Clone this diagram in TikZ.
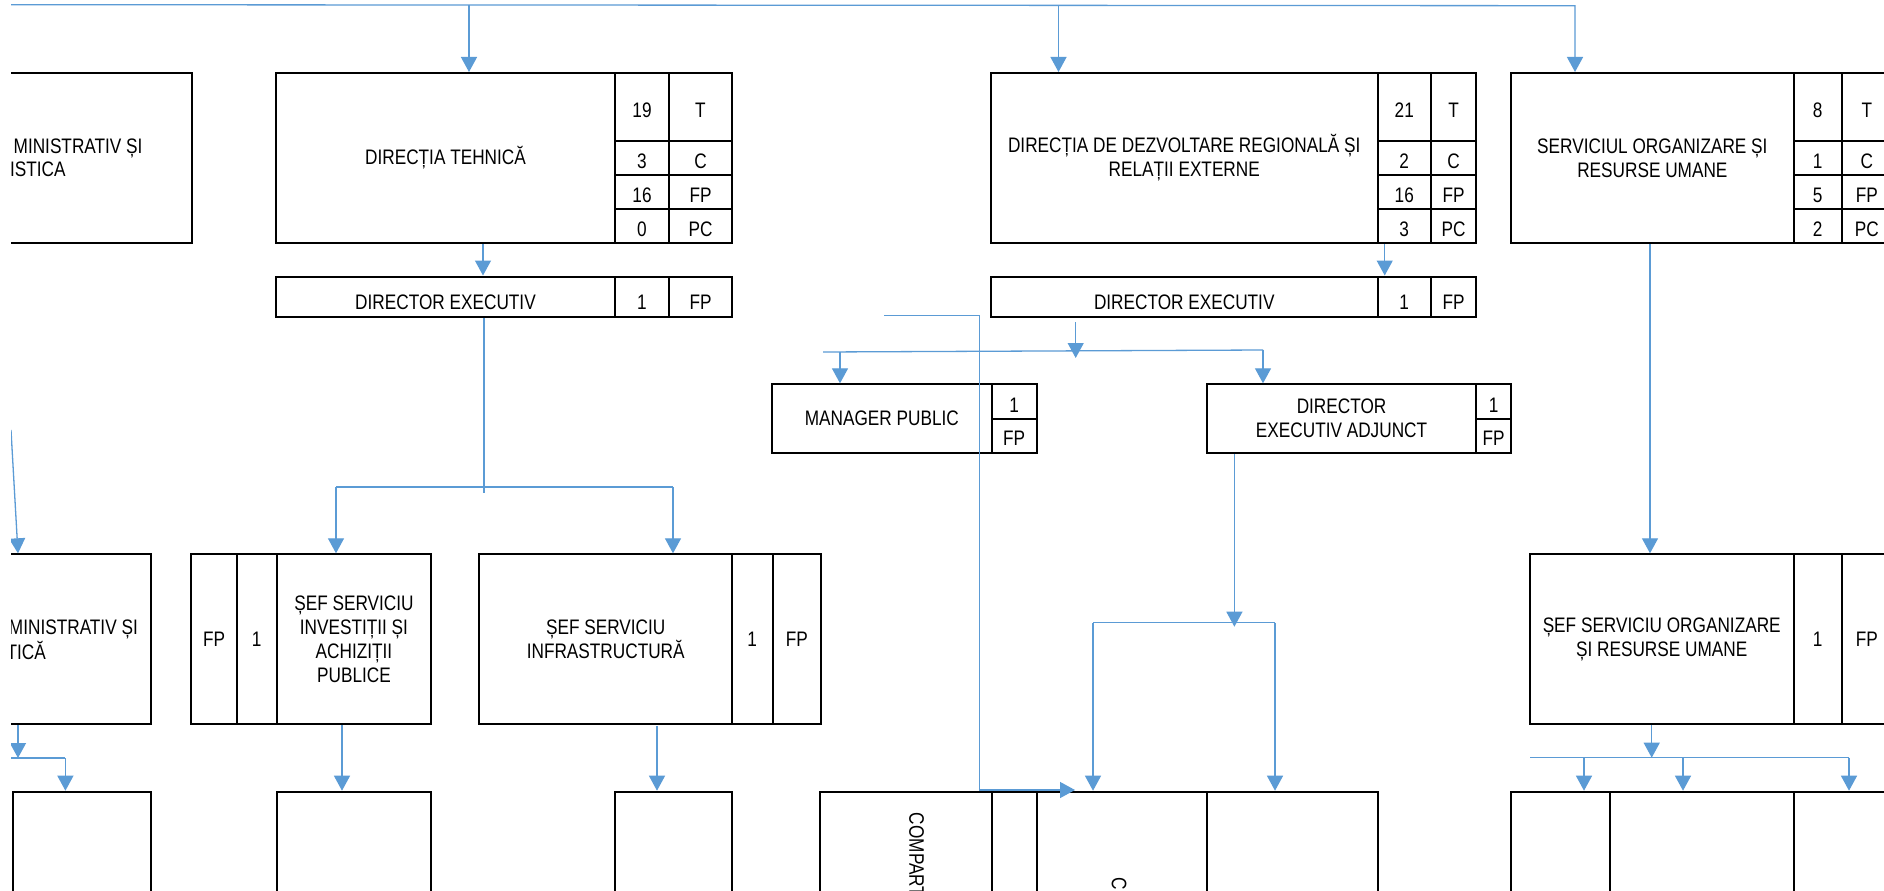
\documentclass[tikz,border=0pt]{standalone}
\usepackage{fontspec}
\setmainfont{Liberation Sans}[FakeStretch=0.82]
\usetikzlibrary{arrows.meta,calc}
\definecolor{connblue}{HTML}{5B9BD5}
\tikzset{
  box/.style={draw=black, line width=2pt, inner sep=0pt, anchor=north west,
    font=\fontsize{21}{23.8}\selectfont, align=center},
  low/.style={text height=20pt, text depth=0pt},
  lower/.style={text height=25pt, text depth=0pt},
  lbl/.style={inner sep=0pt, font=\fontsize{21}{23.8}\selectfont},
  wire/.style={draw=connblue, line width=1.3pt},
  arr/.style={wire, -{Triangle[width=16pt,length=15pt]}},
}
\newcommand{\mybox}[7][]{\node[box, #1, minimum width={(#5)-(#3)}, minimum height={(#6)-(#4)}] (#2) at (#3,#4) {#7};}
\begin{document}
\begin{tikzpicture}[x=1pt,y=-1pt]
\useasboundingbox (0,0) rectangle (1884,891);
\fill[white] (0,0) rectangle (1884,891);
\begin{scope}
\clip (11,0) rectangle (1884,891);

% ---------- row 1 ----------
\mybox{Am}{-200}{72}{190.5}{242}{}
\node[lbl, anchor=base east] (At1) at (142.7,153.3) {MINISTRATIV ȘI};
\node[lbl, anchor=base east] (At2) at (65.7,176.7) {ISTICA};

\mybox{Bm}{275}{72}{614}{242}{DIRECȚIA TEHNICĂ}
\mybox[low]{Bt1}{614}{72}{668}{140}{19}   \mybox[low]{Bt2}{668}{72}{731}{140}{T}
\mybox[low]{Bc1}{614}{140}{668}{174}{3}   \mybox[low]{Bc2}{668}{140}{731}{174}{C}
\mybox[low]{Bf1}{614}{174}{668}{208}{16}  \mybox[low]{Bf2}{668}{174}{731}{208}{FP}
\mybox[low]{Bp1}{614}{208}{668}{242}{0}   \mybox[low]{Bp2}{668}{208}{731}{242}{PC}

\mybox{Om}{990}{72}{1376.5}{242}{DIRECȚIA DE DEZVOLTARE REGIONALĂ ȘI\\RELAȚII EXTERNE}
\mybox[low]{Ot1}{1376.5}{72}{1430}{140}{21}  \mybox[low]{Ot2}{1430}{72}{1475.3}{140}{T}
\mybox[low]{Oc1}{1376.5}{140}{1430}{174}{2}  \mybox[low]{Oc2}{1430}{140}{1475.3}{174}{C}
\mybox[low]{Of1}{1376.5}{174}{1430}{208}{16} \mybox[low]{Of2}{1430}{174}{1475.3}{208}{FP}
\mybox[low]{Op1}{1376.5}{208}{1430}{242}{3}  \mybox[low]{Op2}{1430}{208}{1475.3}{242}{PC}

\mybox{Nm}{1510}{72}{1792.7}{242}{SERVICIUL ORGANIZARE ȘI\\RESURSE UMANE}
\mybox[low]{Nt1}{1792.7}{72}{1840.7}{140}{8}  \mybox[low]{Nt2}{1840.7}{72}{1891}{140}{T}
\mybox[low]{Nc1}{1792.7}{140}{1840.7}{174}{1} \mybox[low]{Nc2}{1840.7}{140}{1891}{174}{C}
\mybox[low]{Nf1}{1792.7}{174}{1840.7}{208}{5} \mybox[low]{Nf2}{1840.7}{174}{1891}{208}{FP}
\mybox[low]{Np1}{1792.7}{208}{1840.7}{242}{2} \mybox[low]{Np2}{1840.7}{208}{1891}{242}{PC}

% ---------- director rows ----------
\mybox[lower]{B2m}{275}{275.5}{614}{316}{DIRECTOR EXECUTIV}
\mybox[lower]{B2a}{614}{275.5}{668}{316}{1}
\mybox[lower]{B2b}{668}{275.5}{731}{316}{FP}

\mybox[lower]{Pm}{990}{275.5}{1376.5}{316}{DIRECTOR EXECUTIV}
\mybox[lower]{Pa}{1376.5}{275.5}{1430}{316}{1}
\mybox[lower]{Pb}{1430}{275.5}{1475.3}{316}{FP}

\mybox{Rm}{771}{383.3}{990.6}{452}{MANAGER PUBLIC}
\mybox[text height=22pt, text depth=0pt]{Ra}{990.6}{383.3}{1035.7}{417.5}{1}
\mybox[low]{Rb}{990.6}{417.5}{1035.7}{452}{FP}

\mybox{Qm}{1205.8}{383.3}{1475.3}{452}{DIRECTOR\\EXECUTIV ADJUNCT}
\mybox[text height=22pt, text depth=0pt]{Qa}{1475.3}{383.3}{1510}{417.5}{1}
\mybox[low]{Qb}{1475.3}{417.5}{1510}{452}{FP}

% ---------- row 2 ----------
\mybox{Cm}{-100}{553.3}{150}{723}{}
\node[lbl, anchor=base east] (Ct1) at (138,634) {MINISTRATIV ȘI};
\node[lbl, anchor=base east] (Ct2) at (46,659) {TICĂ};

\mybox{Da}{190}{553.3}{236}{723}{FP}
\mybox{Db}{236}{553.3}{275.5}{723}{1}
\mybox{Dm}{275.5}{553.3}{430.4}{723}{ȘEF SERVICIU\\INVESTIȚII ȘI\\ACHIZIȚII\\PUBLICE}

\mybox{Em}{478.4}{553.3}{731}{723}{ȘEF SERVICIU\\INFRASTRUCTURĂ}
\mybox{Ea}{731}{553.3}{771.5}{723}{1}
\mybox{Eb}{771.5}{553.3}{820}{723}{FP}

\mybox{Mm}{1528.7}{553.3}{1792.7}{723}{ȘEF SERVICIU ORGANIZARE\\ȘI RESURSE UMANE}
\mybox{Ma}{1792.7}{553.3}{1840.7}{723}{1}
\mybox{Mb}{1840.7}{553.3}{1891}{723}{FP}

% ---------- row 3 ----------
\mybox{Fm}{12}{790.7}{150}{960}{}
\mybox{Gm}{275.5}{790.7}{430.4}{960}{}
\mybox{Hm}{614}{790.7}{731}{960}{}
\mybox{Im}{819}{790.7}{990.6}{960}{}
\mybox{Jm}{990.6}{790.7}{1035.7}{960}{}
\mybox{Km}{1035.7}{790.7}{1206.3}{960}{}
\mybox{Lm}{1206.3}{790.7}{1376.5}{960}{}
\mybox{S1}{1510}{790.7}{1608.7}{960}{}
\mybox{S2}{1608.7}{790.7}{1792.7}{960}{}
\mybox{S3}{1792.7}{790.7}{1950}{960}{}
\node[lbl, rotate=-90, anchor=west] (It) at (916.7,812.7) {COMPART};
\node[lbl, rotate=-90, anchor=west] (Kt) at (1119,877.3) {C};

% ---------- connectors ----------
\coordinate (bus0) at (11,4.7);
\coordinate (bus3) at (1575,5.7);
\draw[arr] (bus0) -- (bus3) -- (bus3 |- Nm.north);
\coordinate (busB) at (469,5);
\draw[arr] (busB) -- (busB |- Bm.north);
\coordinate (busO) at (1058.5,5.3);
\draw[arr] (busO) -- (busO |- Om.north);

\coordinate (bx) at (483,0);
\draw[arr] (bx |- Bm.south) -- (bx |- B2m.north);
\coordinate (j1) at (484,493);
\draw[wire] (j1 |- B2m.south) -- (j1);
\coordinate (h1L) at (336,487);
\coordinate (h1R) at (673,487);
\draw[wire] (h1L) -- (h1R);
\draw[arr] (h1L) -- (h1L |- Dm.north);
\draw[arr] (h1R) -- (h1R |- Em.north);

\coordinate (cIn) at (11,430);
\coordinate (cx) at (18,0);
\draw[arr] (cIn) -- (cx |- Cm.north);
\coordinate (c2) at (18,758);
\draw[arr] (c2 |- Cm.south) -- (c2);
\coordinate (c3L) at (11,758);
\coordinate (c3R) at (65.4,758);
\draw[wire] (c3L) -- (c3R);
\draw[arr] (c3R) -- (c3R |- Fm.north);

\coordinate (dG) at (342,0);
\draw[arr] (dG |- Dm.south) -- (dG |- Gm.north);
\coordinate (eH) at (657,726);
\draw[arr] (eH) -- (eH |- Hm.north);

\coordinate (oP) at (1384.7,0);
\draw[arr] (oP |- Om.south) -- (oP |- Pm.north);
\coordinate (p1) at (1075.7,322);
\coordinate (p2) at (1075.7,358);
\draw[arr] (p1) -- (p2);
\coordinate (h2L) at (823,352);
\coordinate (h2R) at (1263,350);
\draw[wire] (h2L) -- (h2R);
\coordinate (rIn) at (840,352);
\draw[arr] (rIn) -- (rIn |- Rm.north);
\draw[arr] (h2R) -- (h2R |- Qm.north);

\coordinate (L0) at (884,315.3);
\coordinate (L1) at (979.4,315.3);
\coordinate (L2) at (1075,790);
\draw[arr] (L0) -- (L1) |- (L2);

\coordinate (q1) at (1234.4,626.7);
\draw[arr] (q1 |- Qm.south) -- (q1);
\coordinate (h3L) at (1093,622.7);
\coordinate (h3R) at (1275,622.7);
\draw[wire] (h3L) -- (h3R);
\draw[arr] (h3L) -- (h3L |- Km.north);
\draw[arr] (h3R) -- (h3R |- Lm.north);

\coordinate (nM) at (1650,0);
\draw[arr] (nM |- Nm.south) -- (nM |- Mm.north);
\coordinate (m1) at (1651.7,757.7);
\draw[arr] (m1 |- Mm.south) -- (m1);
\coordinate (h4L) at (1530,757.7);
\coordinate (h4R) at (1849,757.7);
\draw[wire] (h4L) -- (h4R);
\coordinate (s1) at (1584,757.7);
\coordinate (s2) at (1683,757.7);
\draw[arr] (s1) -- (s1 |- S1.north);
\draw[arr] (s2) -- (s2 |- S2.north);
\draw[arr] (h4R) -- (h4R |- S3.north);
\end{scope}
\end{tikzpicture}
\end{document}
